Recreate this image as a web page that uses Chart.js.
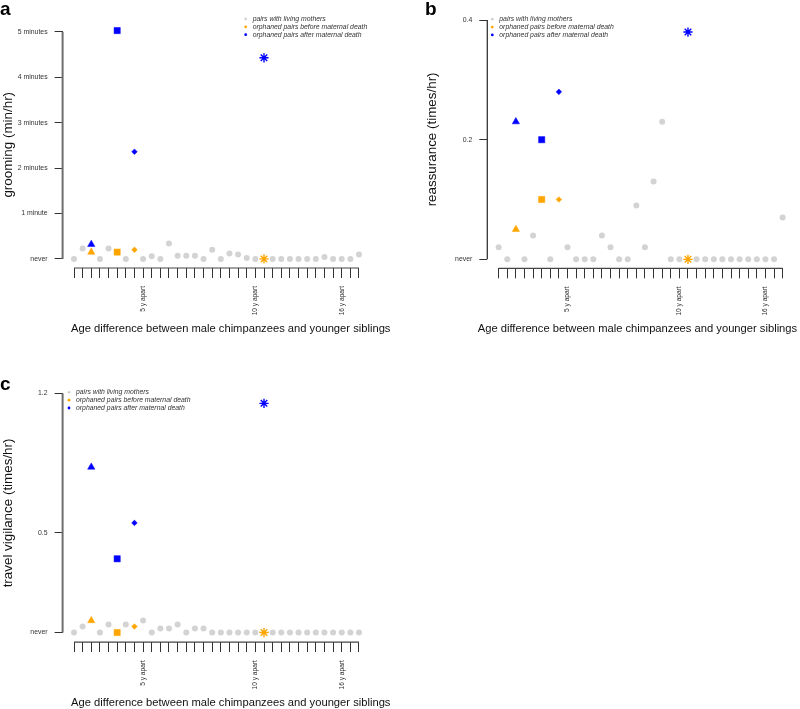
<!DOCTYPE html>
<html>
<head>
<meta charset="utf-8">
<title>Sibling interactions by age difference</title>
<script src="https://cdn.jsdelivr.net/npm/chart.js@4"></script>
<style>
  body { margin: 0; background: #fff; width: 800px; height: 709px; position: relative; overflow: hidden; }
  canvas { position: absolute; }
</style>
</head>
<body>
<canvas id="panel-a" width="400" height="345" style="left:0;top:0"></canvas>
<canvas id="panel-b" width="400" height="345" style="left:400px;top:0"></canvas>
<canvas id="panel-c" width="400" height="349" style="left:0;top:360px"></canvas>
<script>
// --- Data: one position per sibling pair, ordered by age difference ---
const pairIndex = [1, 2, 3, 4, 5, 6, 7, 8, 9, 10, 11, 12, 13, 14, 15, 16, 17,
  18, 19, 20, 21, 22, 23, 24, 25, 26, 27, 28, 29, 30, 31, 32, 33, 34];
const xLabelAt = [9, 22, 32];
const xLabelText = ['5 y apart', '10 y apart', '16 y apart'];
const xTitle = 'Age difference between male chimpanzees and younger siblings';

// orphaned pairs sit at these positions (null in the living-mother series)
const orphanIndex = [3, 6, 8, 23];

const legendLabels = ['pairs with living mothers', 'orphaned pairs before maternal death',
  'orphaned pairs after maternal death'];

// a) grooming (min/hr)
const groomTicks = [0, 1, 2, 3, 4, 5];
const groomTickLabels = ['never', '1 minute', '2 minutes', '3 minutes', '4 minutes', '5 minutes'];
const groomLiving = [0, 0.23, null, 0, 0.23, null, 0, null, 0, 0.06, 0, 0.34, 0.07, 0.07, 0.07, 0,
  0.2, 0, 0.12, 0.1, 0.02, 0, null, 0, 0, 0, 0, 0, 0, 0.04, 0, 0, 0, 0.1];
const groomBefore = [0.15, 0.15, 0.2, 0];
const groomAfter = [0.32, 5.03, 2.36, 4.43];

// b) reassurance (times/hr)
const reassTicks = [0, 0.2, 0.4];
const reassTickLabels = ['never', '0.2', '0.4'];
const reassLiving = [0.02, 0, null, 0, 0.04, null, 0, null, 0.02, 0, 0, 0, 0.04, 0.02, 0, 0,
  0.09, 0.02, 0.13, 0.23, 0, 0, null, 0, 0, 0, 0, 0, 0, 0, 0, 0, 0, 0.07];
const reassBefore = [0.05, 0.1, 0.1, 0];
const reassAfter = [0.23, 0.2, 0.28, 0.38];

// c) travel vigilance (times/hr)
const vigilTicks = [0, 0.5, 1.2];
const vigilTickLabels = ['never', '0.5', '1.2'];
const vigilLiving = [0, 0.03, null, 0, 0.04, null, 0.04, null, 0.06, 0, 0.02, 0.02, 0.04, 0, 0.02, 0.02,
  0, 0, 0, 0, 0, 0, null, 0, 0, 0, 0, 0, 0, 0, 0, 0, 0, 0];
const vigilBefore = [0.06, 0, 0.03, 0];
const vigilAfter = [0.83, 0.37, 0.55, 1.15];

// --- Styles ---
const GRAY = '#d3d3d3';
const ORANGE = '#ffa500';
const BLUE = '#0000ff';
const legendColors = [GRAY, ORANGE, BLUE];
const orphanShapes = ['triangle', 'rect', 'rectRot', 'star'];
const orphanRadius = [4.2, 4.4, 2.8, 4.6];
const orphanBorder = [0.5, 0.5, 0.5, 1.4];
const FONT = '"Liberation Sans", Arial, Helvetica, sans-serif';

Chart.defaults.font.family = FONT;

/**
 * R-style decorations: axis lines that only span the tick range,
 * free-positioned x title, small legend and the panel letter.
 */
const rStyle = {
  id: 'rStyle',
  afterDraw(chart, args, o) {
    const { ctx, scales: { x, y } } = chart;
    ctx.save();

    // x axis line, first to last tick
    ctx.strokeStyle = '#444';
    ctx.lineWidth = 1.2;
    ctx.beginPath();
    ctx.moveTo(x.getPixelForValue(pairIndex[0]), x.top);
    ctx.lineTo(x.getPixelForValue(pairIndex[pairIndex.length - 1]), x.top);
    ctx.stroke();

    // y axis line, first to last tick
    ctx.strokeStyle = o.yAxisColor;
    ctx.lineWidth = o.yAxisWidth;
    ctx.beginPath();
    ctx.moveTo(y.right, y.getPixelForValue(o.yTicks[0]));
    ctx.lineTo(y.right, y.getPixelForValue(o.yTicks[o.yTicks.length - 1]));
    ctx.stroke();

    // x title
    ctx.fillStyle = '#111';
    ctx.font = '11.2px ' + FONT;
    ctx.textAlign = 'left';
    ctx.textBaseline = 'middle';
    ctx.fillText(xTitle, o.xTitleX, o.xTitleY);

    // legend
    ctx.font = 'italic 6.85px ' + FONT;
    legendLabels.forEach((label, i) => {
      const ly = o.legendY + i * 7.85;
      ctx.fillStyle = legendColors[i];
      ctx.beginPath();
      ctx.arc(o.legendX, ly, 1.4, 0, Math.PI * 2);
      ctx.fill();
      ctx.fillStyle = '#333';
      ctx.fillText(label, o.legendX + 7, ly);
    });

    // panel letter
    ctx.fillStyle = '#000';
    ctx.font = 'bold 19px ' + FONT;
    ctx.textBaseline = 'alphabetic';
    ctx.fillText(o.letter, o.letterX, o.letterY);

    ctx.restore();
  },
};

function orphanDataset(values, color) {
  return {
    data: orphanIndex.map((x, i) => ({ x, y: values[i] })),
    pointStyle: orphanShapes,
    pointRadius: orphanRadius,
    pointBackgroundColor: color,
    pointBorderColor: color,
    pointBorderWidth: orphanBorder,
  };
}

function makePanel(id, p) {
  const canvas = document.getElementById(id);
  return new Chart(canvas, {
    type: 'scatter',
    data: {
      datasets: [
        orphanDataset(p.after, BLUE),
        orphanDataset(p.before, ORANGE),
        {
          data: pairIndex.map((x, i) => ({ x, y: p.living[i] })),
          pointStyle: 'circle',
          pointRadius: 3,
          pointBackgroundColor: GRAY,
          pointBorderWidth: 0,
        },
      ],
    },
    options: {
      responsive: false,
      animation: false,
      events: [],
      clip: false,
      layout: { padding: { left: 0, top: p.top, right: canvas.width - p.right, bottom: 0 } },
      plugins: {
        legend: { display: false },
        tooltip: { enabled: false },
        rStyle: p.deco,
      },
      scales: {
        x: {
          type: 'linear',
          min: -0.32,
          max: 35.32,
          afterBuildTicks: (s) => { s.ticks = pairIndex.map((v) => ({ value: v })); },
          afterFit: (s) => {
            s.height = canvas.height - p.bottom;
            s.paddingLeft = 0;
            s.paddingRight = 0;
          },
          border: { display: false },
          grid: { drawOnChartArea: false, tickLength: 10, color: '#333', lineWidth: 1 },
          ticks: {
            autoSkip: false,
            minRotation: 90,
            maxRotation: 90,
            padding: 8,
            color: '#333',
            font: { size: 6.6 },
            callback: (v) => {
              const k = xLabelAt.indexOf(v);
              return k >= 0 ? xLabelText[k] : '';
            },
          },
        },
        y: {
          type: 'linear',
          min: p.yMin,
          max: p.yMax,
          afterBuildTicks: (s) => { s.ticks = p.yTicks.map((v) => ({ value: v })); },
          afterFit: (s) => {
            s.width = p.left;
            s.paddingTop = 0;
            s.paddingBottom = 0;
          },
          border: { display: false },
          grid: { drawOnChartArea: false, tickLength: 8, color: '#333', lineWidth: 1 },
          ticks: {
            padding: 7,
            color: '#333',
            font: { size: 6.9 },
            callback: (v) => p.yTickLabels[p.yTicks.indexOf(v)],
          },
          title: {
            display: true,
            text: p.yTitle,
            color: '#111',
            font: { size: 13.4 },
            padding: { top: p.yTitlePad, bottom: 0 },
          },
        },
      },
    },
    plugins: [rStyle],
  });
}

makePanel('panel-a', {
  living: groomLiving, before: groomBefore, after: groomAfter,
  yTicks: groomTicks, yTickLabels: groomTickLabels, yTitle: 'grooming (min/hr)',
  yMin: -0.2, yMax: 5.23,
  left: 62.6, right: 370.4, top: 21.5, bottom: 268, yTitlePad: 0.5,
  deco: {
    yTicks: groomTicks, yAxisColor: '#6e6e6e', yAxisWidth: 2,
    xTitleX: 71, xTitleY: 329.3,
    legendX: 245.7, legendY: 19,
    letter: 'a', letterX: 0, letterY: 15,
  },
});

makePanel('panel-b', {
  living: reassLiving, before: reassBefore, after: reassAfter,
  yTicks: reassTicks, yTickLabels: reassTickLabels, yTitle: 'reassurance (times/hr)',
  yMin: -0.015, yMax: 0.416,
  left: 87.3, right: 394.7, top: 10.5, bottom: 268.3, yTitlePad: 24.7,
  deco: {
    yTicks: reassTicks, yAxisColor: '#333', yAxisWidth: 1.3,
    xTitleX: 77.7, xTitleY: 329.3,
    legendX: 92.3, legendY: 19.2,
    letter: 'b', letterX: 25, letterY: 15,
  },
});

makePanel('panel-c', {
  living: vigilLiving, before: vigilBefore, after: vigilAfter,
  yTicks: vigilTicks, yTickLabels: vigilTickLabels, yTitle: 'travel vigilance (times/hr)',
  yMin: -0.048, yMax: 1.248,
  left: 62.6, right: 370.4, top: 23.8, bottom: 282.1, yTitlePad: 0,
  deco: {
    yTicks: vigilTicks, yAxisColor: '#6e6e6e', yAxisWidth: 2,
    xTitleX: 71, xTitleY: 343.3,
    legendX: 69, legendY: 32.3,
    letter: 'c', letterX: 0, letterY: 30,
  },
});
</script>
</body>
</html>
